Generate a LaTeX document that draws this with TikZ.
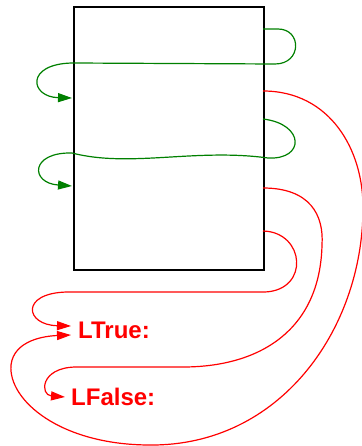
\documentclass[tikz,border=0pt]{standalone}
\usepackage{fontspec}
\setmainfont{Liberation Sans}
\usetikzlibrary{arrows.meta}

\begin{document}
\begin{tikzpicture}[x=1pt,y=-1pt]
\tikzset{block/.style = {draw,line width=2.4pt,minimum width=190pt,minimum height=263pt,inner sep=0pt}}
\tikzset{lbl/.style = {text=red,font=\fontsize{24}{28}\selectfont\bfseries,anchor=west,inner sep=0pt}}
\tikzset{jump/.style = {draw=green!50!black,line width=1.2pt,-{Triangle[length=14pt,width=9pt]}}}
\tikzset{branch/.style = {draw=red,line width=1.2pt,-{Triangle[length=14pt,width=9pt]}}}
\useasboundingbox (0,0) rectangle (361,446);
% code block and labels
\node[block,anchor=north west] (blk) at (72.5,6) {};
\node[lbl] (ltrue)  at (78,330) {LTrue:};
\node[lbl] (lfalse) at (71,397) {LFalse:};
% exits and entries
\coordinate (g1) at (263,29);
\coordinate (r1) at (263,91);
\coordinate (g2) at (263,119);
\coordinate (r2) at (263,188);
\coordinate (r3) at (263,231);
\coordinate (e1) at (72,98);
\coordinate (e2) at (72,186);
%jumps
\draw[jump] (g1) -- (278,29) .. controls (302,29) and (302,64) .. (275,64)
  -- (72,63) .. controls (25,64) and (30,97) .. (e1);
\draw[jump] (g2) .. controls (305,124) and (305,160) .. (268,158)
  .. controls (195,148) and (130,168) .. (72,153)
  .. controls (30,152) and (30,183) .. (e2);
%branches
\draw[branch] (r1) .. controls (330,91) and (364,150) .. (363,210)
  .. controls (362,330) and (280,446) .. (150,445)
  .. controls (60,445) and (8,400) .. (11,365)
  .. controls (14,340) and (45,336) .. ([shift={(-7,5)}]ltrue.west);
\draw[branch] (r3) .. controls (305,232) and (310,290) .. (265,292)
  -- (67,292) .. controls (20,293) and (25,325) .. ([shift={(-7,-4)}]ltrue.west);
\draw[branch] (r2) .. controls (310,188) and (324,215) .. (322,245)
  .. controls (320,330) and (260,367) .. (183,367)
  -- (75,367) .. controls (40,368) and (40,395) .. ([shift={(-6,0)}]lfalse.west);
\end{tikzpicture}
\end{document}
